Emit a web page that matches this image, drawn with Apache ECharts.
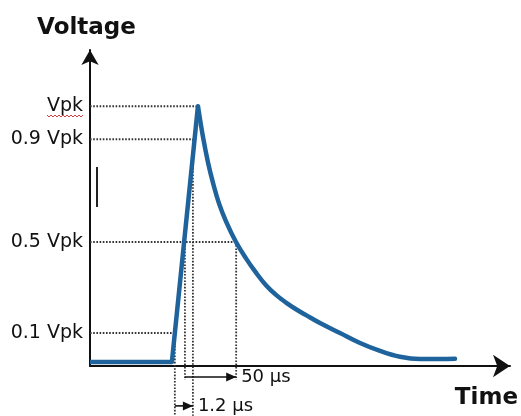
<!DOCTYPE html>
<html>
<head>
<meta charset="utf-8">
<script src="https://cdn.jsdelivr.net/npm/echarts@6/dist/echarts.min.js"></script>
<style>
html,body{margin:0;padding:0;background:#fff;}
#chart{width:521px;height:416px;}
</style>
</head>
<body>
<div id="chart"></div>
<script>
// Sketch units: x = time position (arbitrary), y = fraction of Vpk as drawn
const riseTime = [0, 19.5, 25.7];
const riseVolt = [0, 0, 1.0];
const decayTime = [25.71, 26.90, 28.10, 29.29, 30.71, 32.38, 34.76, 37.14, 39.52, 41.90, 44.29, 46.67, 49.05, 51.43, 54.76, 59.52, 64.29, 69.05, 73.81, 78.57, 83.33, 86.90];
const decayVolt = [1.0, 0.88, 0.78, 0.70, 0.62, 0.55, 0.469, 0.405, 0.349, 0.300, 0.262, 0.232, 0.206, 0.183, 0.152, 0.113, 0.074, 0.043, 0.020, 0.011, 0.011, 0.012];

const levelValues = [0.113, 0.469, 0.871, 1.0];
const levelLabels = ['0.1 Vpk', '0.5 Vpk', '0.9 Vpk', 'Vpk'];
const levelEndTime = [20.2, 34.8, 24.5, 25.7];

// vertical guides: time, top level, bottom
const vGuideTime = [20.2, 22.6, 24.5, 34.8];
const vGuideTop = [0.113, 0.469, 0.871, 0.469];
const vGuideBottom = [-0.211, -0.070, -0.211, -0.070];

// duration arrows
const arrowLabels = ['50 µs', '1.2 µs'];
const arrowStart = [22.6, 20.2];
const arrowEnd = [34.8, 24.5];
const arrowLevel = [-0.059, -0.172];

const FONT = 'DejaVu Sans';
const chart = echarts.init(document.getElementById('chart'));

const dotted = {color: '#333', width: 1.8, type: [1.6, 1.6]};
const guideSeries = [];
levelValues.forEach((v, i) => {
  guideSeries.push({type: 'line', silent: true, clip: false, showSymbol: false, z: 1,
    lineStyle: dotted, data: [[0, v], [levelEndTime[i], v]]});
});
vGuideTime.forEach((t, i) => {
  guideSeries.push({type: 'line', silent: true, clip: false, showSymbol: false, z: 1,
    lineStyle: dotted, data: [[t, vGuideTop[i]], [t, vGuideBottom[i]]]});
});
const arrowSeries = arrowLabels.map((l, i) => ({
  type: 'line', name: l, silent: true, clip: false, showSymbol: true, z: 2,
  lineStyle: {color: '#111', width: 1.6},
  itemStyle: {color: '#111'},
  data: [
    {value: [arrowStart[i], arrowLevel[i]], symbol: 'none'},
    {value: [arrowEnd[i], arrowLevel[i]], symbol: 'triangle', symbolRotate: -90,
      symbolSize: [9, 10], symbolOffset: [-5, 0]}
  ],
  endLabel: {show: true, formatter: l, distance: 5,
    fontFamily: FONT, fontSize: 18, color: '#111'}
}));

chart.setOption({
  animation: false,
  backgroundColor: '#fff',
  grid: {left: 90, right: 11, top: 50, bottom: 50},
  xAxis: {
    type: 'value', min: 0, max: 100,
    axisLine: {show: true, onZero: false, symbol: ['none', 'arrow'], symbolSize: [17, 17],
      lineStyle: {color: '#111', width: 2}},
    axisTick: {show: false}, axisLabel: {show: false}, splitLine: {show: false},
    name: 'Time', nameLocation: 'end', nameGap: 8,
    nameTextStyle: {fontFamily: FONT, fontWeight: 'bold', fontSize: 23, color: '#111',
      align: 'right', verticalAlign: 'top', padding: [21, 0, 0, 0]}
  },
  yAxis: {
    type: 'value', min: -0.016, max: 1.22,
    axisLine: {show: true, onZero: false, symbol: ['none', 'arrow'], symbolSize: [13, 15],
      lineStyle: {color: '#111', width: 2}},
    axisTick: {show: false}, splitLine: {show: false},
    axisLabel: {
      show: true, customValues: levelValues, margin: 7,
      fontFamily: FONT, fontSize: 19, color: '#111',
      formatter: function (v) {
        for (let i = 0; i < levelValues.length; i++) {
          if (Math.abs(levelValues[i] - v) < 1e-6) return levelLabels[i];
        }
        return '';
      }
    },
    name: 'Voltage', nameLocation: 'end', nameGap: 10,
    nameTextStyle: {fontFamily: FONT, fontWeight: 'bold', fontSize: 23, color: '#111', padding: [0, 7, 0, 0]}
  },
  series: guideSeries.concat(arrowSeries).concat([
    {
      name: 'rise', type: 'line', showSymbol: false, clip: false, z: 3,
      lineStyle: {color: '#1f639c', width: 4.5, join: 'round'},
      data: riseTime.map((t, i) => [t, riseVolt[i]])
    },
    {
      name: 'decay', type: 'line', showSymbol: false, clip: false, smooth: 0.4, z: 3,
      lineStyle: {color: '#1f639c', width: 4.5, cap: 'round'},
      data: decayTime.map((t, i) => [t, decayVolt[i]])
    }
  ]),
  graphic: [
    {type: 'rect', shape: {x: 96, y: 167, width: 2, height: 40}, style: {fill: '#222'}, silent: true},
    {type: 'polyline', shape: {points: [[47,115],[49,117],[51,115],[53,117],[55,115],[57,117],[59,115],[61,117],[63,115],[65,117],[67,115],[69,117],[71,115],[73,117],[75,115],[77,117],[79,115],[81,117],[83,115]]},
      style: {stroke: '#d04040', lineWidth: 1, fill: null}, silent: true}
  ]
});
</script>
</body>
</html>
